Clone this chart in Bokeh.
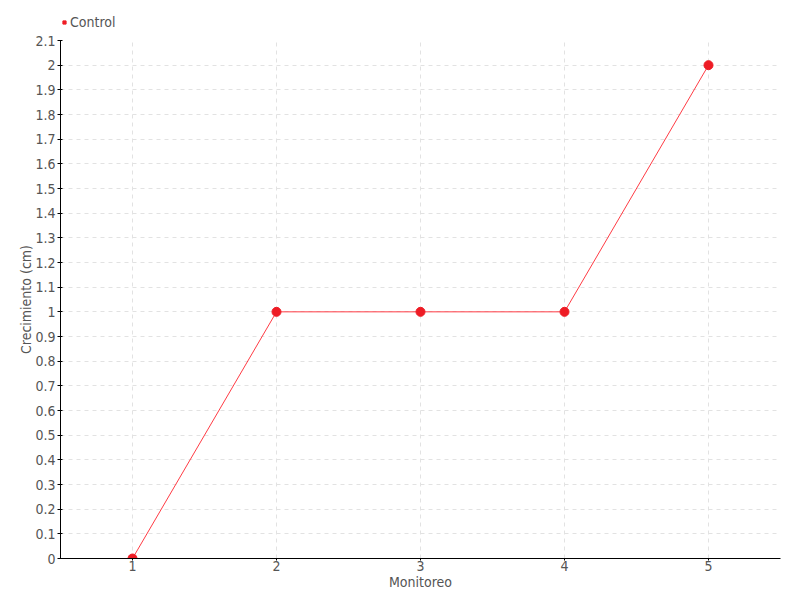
from bokeh.plotting import figure
from bokeh.layouts import column
from bokeh.models import FixedTicker, Legend, LegendItem, Range1d
from bokeh.embed import file_html
from bokeh.resources import INLINE

monitoreo = [1, 2, 3, 4, 5]
crecimiento = [0, 1, 1, 1, 2]
series_name = "Control"
x_ticks = [1, 2, 3, 4, 5]
y_ticks = [i / 10 for i in range(22)]
y_labels = ["0", "0.1", "0.2", "0.3", "0.4", "0.5", "0.6", "0.7", "0.8", "0.9", "1",
            "1.1", "1.2", "1.3", "1.4", "1.5", "1.6", "1.7", "1.8", "1.9", "2", "2.1"]

FONT = "DejaVu Sans Condensed"
RED = "#ee1c25"
GREY = "#555555"

# main chart
p = figure(width=792, height=562, output_backend="svg", toolbar_location=None,
           x_range=Range1d(0.5, 5.5), y_range=Range1d(0, 2.1),
           min_border_left=60, min_border_right=12, min_border_top=10, min_border_bottom=32)
p.outline_line_color = None
p.background_fill_color = "white"

p.line(monitoreo, crecimiento, line_color="#ff3b44", line_width=1)
p.scatter(monitoreo, crecimiento, size=9, marker="circle",
          fill_color=RED, line_color=RED)

for ax in (p.xaxis[0], p.yaxis[0]):
    ax.axis_line_color = "black"
    ax.axis_line_width = 1
    ax.major_label_text_font = FONT
    ax.major_label_text_font_size = "14px"
    ax.major_label_text_color = GREY
    ax.axis_label_text_font = FONT
    ax.axis_label_text_font_size = "14px"
    ax.axis_label_text_font_style = "normal"
    ax.axis_label_text_color = GREY
    ax.minor_tick_line_color = None
    ax.major_tick_line_color = "black"

p.xaxis.ticker = FixedTicker(ticks=x_ticks)
p.xaxis.axis_label = "Monitoreo"
p.xaxis.major_tick_in = 0
p.xaxis.major_tick_out = 2
p.xaxis.major_label_standoff = 0
p.xaxis.axis_label_standoff = 0

p.yaxis.ticker = FixedTicker(ticks=y_ticks)
p.yaxis.major_label_overrides = {t: l for t, l in zip(y_ticks, y_labels)}
p.yaxis.axis_label = "Crecimiento (cm)"
p.yaxis.major_tick_in = 2
p.yaxis.major_tick_out = 3
p.yaxis.major_label_standoff = 2
p.yaxis.axis_label_standoff = -2

for g in (p.xgrid[0], p.ygrid[0]):
    g.grid_line_color = "#e2e2e2"
    g.grid_line_dash = "4 4"
    g.grid_line_width = 1
p.xgrid.ticker = FixedTicker(ticks=x_ticks)
p.ygrid.ticker = FixedTicker(ticks=y_ticks)

# legend strip above the chart
lg = figure(width=792, height=30, output_backend="svg", toolbar_location=None,
            x_range=Range1d(0, 1), y_range=Range1d(0, 1),
            x_axis_location=None, y_axis_location=None,
            min_border_left=0, min_border_right=0, min_border_top=0, min_border_bottom=0)
lg.grid.visible = False
lg.outline_line_color = None
sq = lg.scatter([float("nan")], [float("nan")], marker="square", size=7,
                fill_color=RED, line_color=RED)
legend = Legend(items=[LegendItem(label=series_name, renderers=[sq])],
                location=(0, 0), orientation="horizontal",
                label_text_font=FONT, label_text_font_size="14px",
                label_text_color=GREY, glyph_width=8, glyph_height=8,
                label_standoff=2, padding=0, margin=0, spacing=0,
                label_height=16, border_line_color=None, background_fill_alpha=0)
lg.add_layout(legend, "center")

layout = column(lg, p, spacing=0)
open("out.html", "w").write(file_html(layout, INLINE))
